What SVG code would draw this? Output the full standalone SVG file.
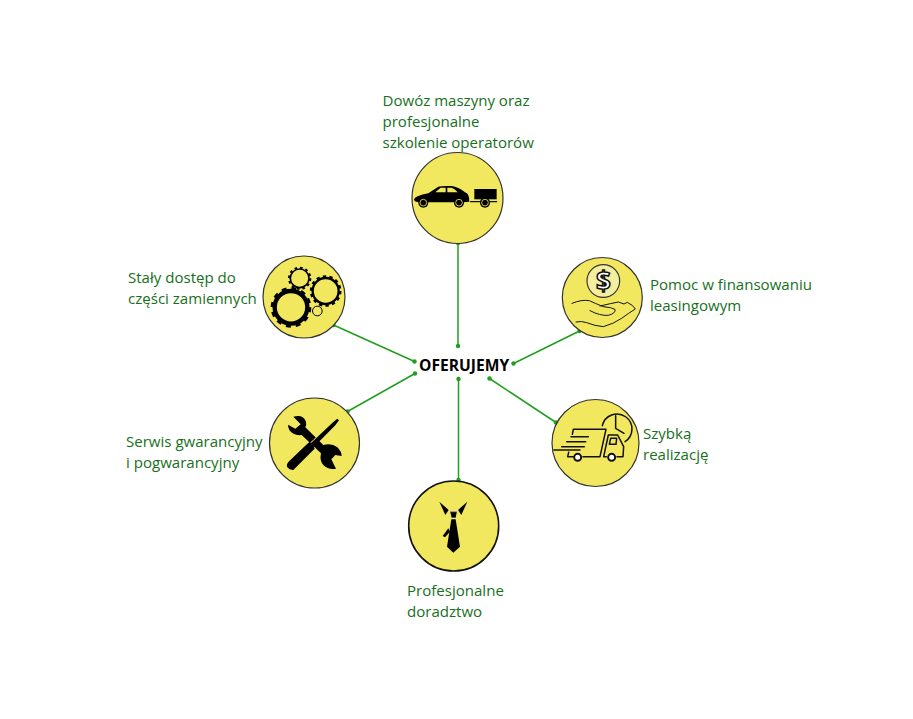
<svg xmlns="http://www.w3.org/2000/svg" width="913" height="719" viewBox="0 0 913 719">
<style>
text{font-family:"Open Sans","Noto Sans","Liberation Sans",sans-serif}
.l{font-size:15.05px;fill:#17701c}
.c{fill:#f2e85f;stroke:#333;stroke-width:1.2}
.k{fill:#000;stroke:none}
.s{fill:none;stroke:#111;stroke-linecap:round;stroke-linejoin:round}
.e{stroke:#1f9e1f;stroke-width:1.5;fill:none;marker-start:url(#d);marker-end:url(#d)}
</style>
<defs><marker id="d" markerUnits="userSpaceOnUse" markerWidth="6" markerHeight="6" refX="3" refY="3"><circle cx="3" cy="3" r="2.2" fill="#1f9e1f"/></marker></defs>
<rect width="913" height="719" fill="#fff"/>
<g id="connectors">
<path class="e" d="M458 243V346"/>
<path class="e" d="M579.5 331L513.5 363.5"/>
<path class="e" d="M556 422.5L489.500 378.5"/>
<path class="e" d="M458.5 379V480"/>
<path class="e" d="M347.5 411.5L415 373.5"/>
<path class="e" d="M333.5 325L414.5 361.5"/>
</g>
<g id="center"><text x="419" y="371" font-size="15.6" font-weight="700" fill="#000">OFERUJEMY</text></g>
<g id="node-dowoz">
<circle class="c" cx="457.5" cy="198" r="45.5"/>
<g transform="translate(370 80) scale(.3333)">
<path class="k" d="M132 358Q136 347 175 340L205 320Q215 317 245 318Q265 320 285 337Q298 340 298 365L280 367H150Q132 367 132 358Z"/>
<path d="M196 337L212 323H227V337ZM232 323H245Q255 326 263 337H232Z" fill="#f2e85f"/>
<path class="k" d="M313 327H380V358H313Z"/>
<path class="s" stroke-width="4" d="M302 365H380"/>
<g fill="#000" stroke="none"><circle cx="160" cy="368" r="15"/><circle cx="267" cy="368" r="15"/><circle cx="345" cy="368" r="15"/></g>
<g fill="none" stroke="#f2e85f" stroke-width="2.5"><circle cx="160" cy="368" r="10"/><circle cx="267" cy="368" r="10"/><circle cx="345" cy="368" r="10"/></g>
</g>
<text class="l" x="382.5" y="106">Dowóz maszyny oraz</text><text class="l" x="382.5" y="127">profesjonalne</text><text class="l" x="382.5" y="148">szkolenie operatorów</text>
</g>
<g id="node-pomoc">
<circle class="c" cx="602.3" cy="297.5" r="40"/>
<g transform="translate(550 250) scale(.3333)">
<circle cx="160" cy="93" r="49" fill="#f3eea0" stroke="#333" stroke-width="3.5"/>
<text x="160" y="120" text-anchor="middle" font-size="78" font-weight="700" fill="#fff" stroke="#111" stroke-width="4.5">$</text>
<path class="s" stroke-width="3" d="M66 160Q95 148 118 152Q135 160 160 170Q185 172 195 178Q198 190 175 196Q150 198 120 182M150 168Q185 160 205 156L222 162L232 157L248 167L256 177Q235 190 215 205Q190 222 160 230Q135 228 110 218Q95 212 78 216"/>
</g>
<text class="l" x="650" y="290">Pomoc w finansowaniu</text><text class="l" x="650" y="311">leasingowym</text>
</g>
<g id="node-szybka">
<circle class="c" cx="595.5" cy="443" r="43.5"/>
<g transform="translate(545 395) scale(.3333)">
<path class="s" stroke-width="4.5" d="M172 92A45 45 0 1 1 240 140M212 62V100L237 115"/>
<path class="s" stroke-width="4.5" d="M82 118L85 103H183L165 185H114M85 185H68L71 172M78 125H130M65 140H122M50 155H118M27 165H105M190 120H218L236 155L234 185H216M184 185H176L190 120"/>
<path class="s" stroke-width="4.5" d="M197 130H215L213 148H193Z"/>
<circle cx="98" cy="187" r="10.5" fill="#fff" stroke="#111" stroke-width="6"/><circle cx="200" cy="187" r="10.5" fill="#fff" stroke="#111" stroke-width="6"/>
</g>
<text class="l" x="643" y="439">Szybką</text><text class="l" x="643" y="460">realizację</text>
</g>
<g id="node-doradztwo">
<circle class="c" cx="453.7" cy="526" r="45" style="stroke-width:1.6;stroke:#111"/>
<g transform="translate(400 475) scale(.3333)">
<path class="k" d="M118 80L146 105L136 120ZM202 80L174 105L184 120Z"/>
<path class="k" d="M150 108H171L167 128H155Z"/>
<path d="M146 105L152 110H169L175 105M155 130H167" fill="none" stroke="#ddd" stroke-width="2.5"/>
<path class="k" d="M154 133H167L180 215L160 233L141 215Z"/>
<path class="k" d="M145 160L128 183L135 187L150 170Z"/>
</g>
<text class="l" x="407" y="596">Profesjonalne</text><text class="l" x="407" y="617">doradztwo</text>
</g>
<g id="node-serwis">
<circle class="c" cx="314.5" cy="443" r="45"/>
<g transform="translate(260 390) scale(.3333)">
<path class="k" d="M100 80Q130 72 138 95Q140 105 136 112L190 165Q215 158 232 172Q245 185 245 198L226 195L214 208L228 236Q205 240 190 225Q178 212 183 190L125 135Q100 138 88 120Q84 112 84 104L106 116L122 103Z"/>
<path d="M222 100L150 165L165 180" fill="none" stroke="#f2e85f" stroke-width="10"/>
<path class="k" d="M232 86L237 91L226 106L162 170L164 176L150 190L100 240Q90 242 82 232Q78 225 85 216L135 168L148 156L154 158L219 97Z"/>
</g>
<text class="l" x="126" y="447">Serwis gwarancyjny</text><text class="l" x="126" y="468">i pogwarancyjny</text>
</g>
<g id="node-staly">
<circle class="c" cx="304" cy="297" r="41"/>
<g transform="translate(255 250) scale(.3333)" fill="none" stroke="#000">
<circle cx="108" cy="172" r="49" stroke-width="13"/><circle cx="108" cy="172" r="57" stroke-width="8" stroke-dasharray="15 14.800"/>
<circle cx="134" cy="85" r="28" stroke-width="5"/><circle cx="134" cy="85" r="32" stroke-width="6" stroke-dasharray="8 8.760"/>
<circle cx="212" cy="123" r="39" stroke-width="7"/><circle cx="212" cy="123" r="44" stroke-width="7" stroke-dasharray="10 9.750"/>
<circle cx="187" cy="183" r="14.5" stroke-width="3"/>
</g>
<text class="l" x="128" y="283">Stały dostęp do</text><text class="l" x="128" y="304">części zamiennych</text>
</g>
</svg>
